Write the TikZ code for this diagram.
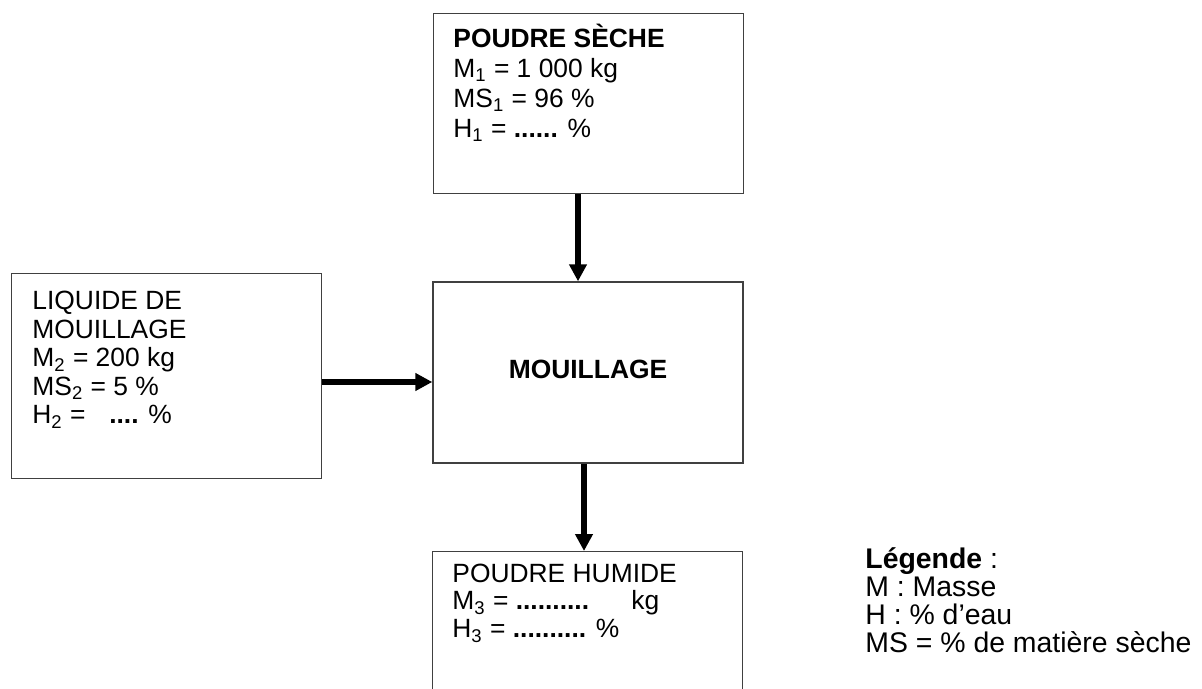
\documentclass[tikz,border=0pt]{standalone}
\usepackage{fontspec}
\setmainfont{Liberation Sans}
\usetikzlibrary{arrows.meta, positioning, calc}
\tikzset{
  box/.style  = {draw=black!75, line width=0.7pt, inner sep=0pt, anchor=north west,
                 minimum width=155pt},
  txt/.style  = {align=left, inner sep=0pt, anchor=north west},
  flow/.style = {-{Triangle[length=8.5pt, width=8.5pt]}, line width=3pt},
}
\newcommand{\firstln}{\rule{0pt}{13pt}}

\begin{document}
\begin{tikzpicture}[x=0.5pt, y=-0.5pt]
    \useasboundingbox (0,0) rectangle (1202,689);

    \node[box, minimum height=90pt]   (seche)    at (433,13)  {};
    \node[box, minimum height=90.5pt, anchor=center, text depth=3pt,
          font=\fontsize{13.2}{15}\selectfont\bfseries] (mouillage) at (588,372.5) {MOUILLAGE};
    \node[box, minimum height=102.5pt] (liquide) at (11,273)  {};
    \node[box, minimum height=150pt]  (humide)   at (432,551) {};

    \node[txt, font=\fontsize{13.2}{15}\selectfont] (seche txt) at (453,21)
      {\firstln\textbf{POUDRE SÈCHE}\\
       M\textsubscript{1} = 1 000 kg\\
       MS\textsubscript{1} = 96 \%\\
       H\textsubscript{1} = \textbf{......} \%};
    \node[txt, font=\fontsize{13.2}{14.3}\selectfont] (liquide txt) at (32,283)
      {\firstln LIQUIDE DE\\
       MOUILLAGE\\
       M\textsubscript{2} = 200 kg\\
       MS\textsubscript{2} = 5 \%\\
       H\textsubscript{2} =\hspace{0.9em}\textbf{....} \%};
    \node[txt, font=\fontsize{13.2}{13.75}\selectfont] (humide txt) at (452,556)
      {\firstln POUDRE HUMIDE\\
       M\textsubscript{3} = \textbf{..........}\hspace{1.6em}kg\\
       H\textsubscript{3} = \textbf{..........} \%};

    \node[txt, font=\fontsize{14.2}{14}\selectfont] (legende) at (865,542)
      {\firstln\textbf{Légende} :\\
       M : Masse\\
       H : \% d’eau\\
       MS = \% de matière sèche};

    \coordinate (hy) at (0,382);
    \coordinate (vx top) at (578,0);
    \coordinate (vx bot) at (584,0);
    \draw[flow] (liquide.east |- hy) -- (mouillage.west |- hy);
    \draw[flow] (seche.south -| vx top) -- (mouillage.north -| vx top);
    \draw[flow] (mouillage.south -| vx bot) -- (humide.north -| vx bot);
\end{tikzpicture}
\end{document}
